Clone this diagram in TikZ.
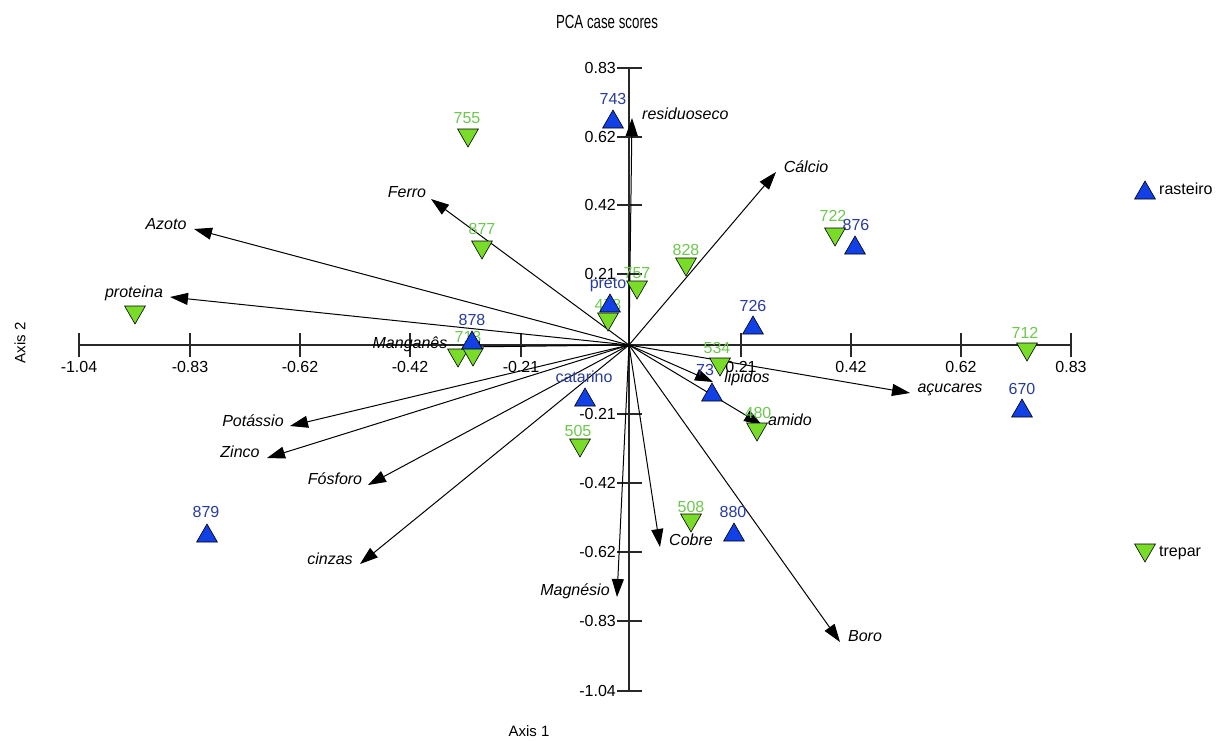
\documentclass[tikz,border=0pt]{standalone}
\usepackage{fontspec}
\setmainfont{Liberation Sans}
\usetikzlibrary{arrows.meta,shapes.geometric}
\definecolor{bluefill}{RGB}{16,64,230}
\definecolor{bluetext}{RGB}{40,60,160}
\definecolor{greenfill}{RGB}{120,220,40}
\definecolor{greentext}{RGB}{110,200,80}
\definecolor{axisgray}{RGB}{40,40,40}
\begin{document}
\begin{tikzpicture}[x=1pt,y=-1pt,
  axis/.style={draw=axisgray, line width=1.3pt},
  tickmark/.style={draw=axisgray, line width=1.1pt},
  ticklab/.style={font=\fontsize{16}{18}\selectfont, text=black, inner sep=1pt},
  vec/.style={draw=black, line width=1pt, -{Triangle[length=18pt,width=12pt]}},
  varlab/.style={font=\fontsize{16}{18}\selectfont\itshape, inner sep=1pt},
  bluelab/.style={font=\fontsize{16}{18}\selectfont, text=bluetext, inner sep=1pt},
  greenlab/.style={font=\fontsize{16}{18}\selectfont, text=greentext, inner sep=1pt},
  up/.style={regular polygon, regular polygon sides=3, draw=black, line width=0.6pt, fill=bluefill, inner sep=0pt, minimum size=24pt},
  dn/.style={regular polygon, regular polygon sides=3, shape border rotate=180, draw=black, line width=0.6pt, fill=greenfill, inner sep=0pt, minimum size=24pt},
]
\useasboundingbox[fill=white] (0,0) rectangle (1218,740);

% title and axis names
\node[font=\fontsize{19}{21}\selectfont] (title) at (607,22) {\scalebox{0.7}[1]{PCA case scores}};
\node[font=\fontsize{15}{17}\selectfont] (ax1) at (529,731) {Axis 1};
\node[font=\fontsize{15}{17}\selectfont, rotate=90] (ax2) at (20,343) {Axis 2};

% axes
\coordinate (O) at (629,345);
\coordinate (xl) at (79,345);
\coordinate (xr) at (1071,345);
\coordinate (yt) at (629,68);
\coordinate (yb) at (629,691);
\draw[axis] (xl) -- (xr);
\draw[axis] (yt) -- (yb);

% horizontal ticks
\foreach \x/\t in {79/-1.04,190/-0.83,300/-0.62,410/-0.42,521/-0.21,741/0.21,851/0.42,961/0.62,1071/0.83}{
  \draw[tickmark] (\x,333) -- (\x,357);
  \node[ticklab] at (\x,367) {\t};
}
% vertical ticks
\foreach \y/\t in {68/0.83,137/0.62,205/0.42,274/0.21,414/-0.21,483/-0.42,552/-0.62,621/-0.83,691/-1.04}{
  \draw[tickmark] (617,\y) -- (642,\y);
  \node[ticklab, anchor=east] at (617,\y) {\t};
}

% variable vectors
\coordinate (tRes) at (632,118);
\coordinate (tCal) at (776,172);
\coordinate (tFer) at (431,199);
\coordinate (tAzo) at (194,229);
\coordinate (tPro) at (170,297);
\coordinate (tMan) at (462,347);
\coordinate (tPot) at (290,426);
\coordinate (tZin) at (267,458);
\coordinate (tFos) at (368,485);
\coordinate (tCin) at (360,564);
\coordinate (tMag) at (617,597);
\coordinate (tCob) at (660,547);
\coordinate (tBor) at (840,642);
\coordinate (tAcu) at (910,393);
\coordinate (tLip) at (713,382);
\coordinate (tAmi) at (762,425);
\foreach \t in {tRes,tCal,tFer,tAzo,tPro,tMan,tPot,tZin,tFos,tCin,tMag,tCob,tBor,tAcu,tLip,tAmi}{
  \draw[vec] (O) -- (\t);
}
\node[varlab, anchor=west] (lRes) at (641,114) {residuoseco};
\node[varlab] (lCal) at (806,167) {Cálcio};
\node[varlab] (lFer) at (407,192) {Ferro};
\node[varlab] (lAzo) at (166,224) {Azoto};
\node[varlab] (lPro) at (134,293) {proteina};
\node[varlab] (lMan) at (410,344) {Manganês};
\node[varlab] (lPot) at (253,421) {Potássio};
\node[varlab] (lZin) at (240,452) {Zinco};
\node[varlab] (lFos) at (335,479) {Fósforo};
\node[varlab] (lCin) at (330,559) {cinzas};
\node[varlab] (lMag) at (575,591) {Magnésio};
\node[varlab] (lCob) at (691,540) {Cobre};
\node[varlab] (lBor) at (865,636) {Boro};
\node[varlab] (lAcu) at (950,390) {açucares};
\node[varlab] (lLip) at (747,378) {lipidos};
\node[varlab] (lAmi) at (790,420) {amido};

% case labels
\node[greenlab] (g755l) at (467,118) {755};
\node[greenlab] (g877l) at (482,229) {877};
\node[greenlab] (g828l) at (686,250) {828};
\node[greenlab] (g757l) at (637,273) {757};
\node[greenlab] (g478l) at (608,305) {478};
\node[greenlab] (g722l) at (833,216) {722};
\node[greenlab] (g712l) at (1025,333) {712};
\node[greenlab] (g534l) at (717,348) {534};
\node[greenlab] (g480l) at (758,413) {480};
\node[greenlab] (g505l) at (578,431) {505};
\node[greenlab] (g508l) at (691,507) {508};
\node[greenlab] (g713l) at (468,337) {713};
\node[bluelab] (b743l) at (613,99) {743};
\node[bluelab] (b876l) at (856,225) {876};
\node[bluelab] (b726l) at (753,306) {726};
\node[bluelab] (bprl) at (608,285) {preto};
\node[bluelab] (b878l) at (472,320) {878};
\node[bluelab] (bcal) at (584,377) {catarino};
\node[bluelab] (b73l) at (705,370) {73};
\node[bluelab] (b670l) at (1022,389) {670};
\node[bluelab] (b880l) at (733,512) {880};
\node[bluelab] (b879l) at (206,512) {879};

% green (trepar) markers
\node[dn] (g755) at (468,135) {};
\node[dn] (g877) at (482,247) {};
\node[dn] (g828) at (686,264) {};
\node[dn] (g757) at (637,287) {};
\node[dn] (g722) at (835,234) {};
\node[dn] (g712) at (1027,349) {};
\node[dn] (g534) at (720,364) {};
\node[dn] (g480) at (757,429) {};
\node[dn] (g505) at (580,445) {};
\node[dn] (g508) at (691,520) {};
\node[dn] (gpro) at (135,312) {};
\node[dn] (g713a) at (458,355) {};
\node[dn] (g713b) at (473,354) {};
% blue (rasteiro) markers
\node[up] (b743) at (613,122) {};
\node[up] (b876) at (855,248) {};
\node[up] (b726) at (753,328) {};
\node[up] (bpr) at (610,306) {};
\node[dn] (g478) at (608,319) {};
\node[up] (b878) at (472,343) {};
\node[up] (bca) at (585,400) {};
\node[up] (b73) at (712,395) {};
\node[up] (b670) at (1022,411) {};
\node[up] (b880) at (734,535) {};
\node[up] (b879) at (207,536) {};

% legend
\node[up] (legR) at (1145,193) {};
\node[font=\fontsize{16}{18}\selectfont, anchor=west, inner sep=1pt] (legRl) at (1158,189) {rasteiro};
\node[dn] (legT) at (1145,550) {};
\node[font=\fontsize{16}{18}\selectfont, anchor=west, inner sep=1pt] (legTl) at (1158,553) {trepar};
\end{tikzpicture}
\end{document}
